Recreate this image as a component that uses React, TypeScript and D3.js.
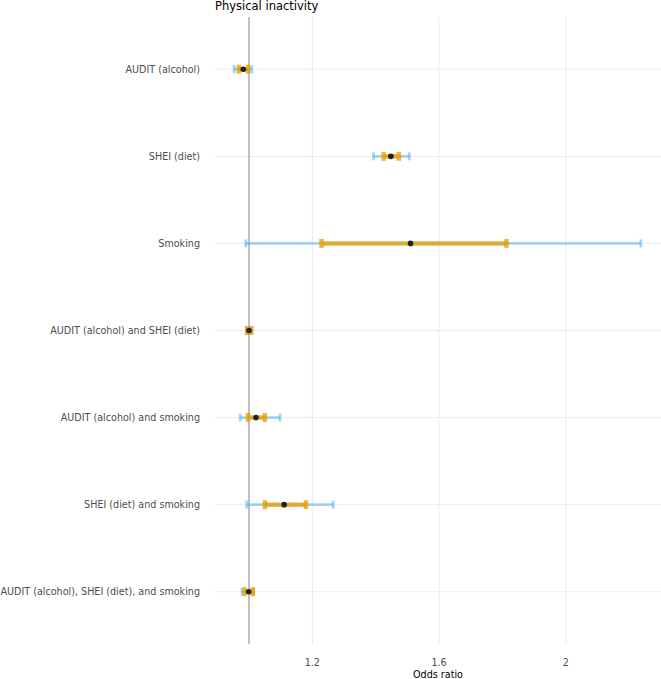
import React from "react";
import * as d3 from "d3";

const categories = [
  "AUDIT (alcohol)",
  "SHEI (diet)",
  "Smoking",
  "AUDIT (alcohol) and SHEI (diet)",
  "AUDIT (alcohol) and smoking",
  "SHEI (diet) and smoking",
  "AUDIT (alcohol), SHEI (diet), and smoking",
];
const estimate = [0.982, 1.448, 1.51, 1.0, 1.022, 1.111, 0.999];
const ci95Low = [0.953, 1.393, 0.99, 0.992, 0.972, 0.993, 0.978];
const ci95High = [1.009, 1.506, 2.237, 1.009, 1.098, 1.266, 1.014];
const ci50Low = [0.968, 1.425, 1.229, 0.994, 0.997, 1.05, 0.986];
const ci50High = [0.997, 1.473, 1.813, 1.007, 1.05, 1.18, 1.012];
const xTicks = [1.2, 1.6, 2];

const W = 661;
const H = 679;
const left = 215;
const right = 661;
const top = 17;
const bottom = 644;
const font = "DejaVu Sans, sans-serif";

export default function App() {
  const x = d3.scaleLinear().domain([1, 1.4]).range([249, 375.7]);
  const y = d3
    .scalePoint<string>()
    .domain(categories)
    .range([top, bottom])
    .padding(0.6);

  return (
    <svg
      width={W}
      height={H}
      style={{ position: "absolute", left: 0, top: 0, background: "#fff" }}
    >
      <text x={215} y={9.5} fontFamily={font} fontSize={11.5} fill="#000">
        Physical inactivity
      </text>
      {xTicks.map((t) => (
        <line
          key={"gx" + t}
          x1={x(t)}
          x2={x(t)}
          y1={top}
          y2={bottom}
          stroke="#ebebeb"
          strokeWidth={1}
        />
      ))}
      {categories.map((c) => (
        <line
          key={"gy" + c}
          x1={left}
          x2={right}
          y1={y(c)}
          y2={y(c)}
          stroke="#ebebeb"
          strokeWidth={1}
        />
      ))}
      <line
        x1={x(1)}
        x2={x(1)}
        y1={top}
        y2={bottom}
        stroke="#8c8c8c"
        strokeWidth={1.1}
      />
      {categories.map((c, i) => {
        const yy = y(c)!;
        return (
          <g key={"b" + i}>
            <g stroke="#56B4E9" strokeOpacity={0.55} strokeWidth={2.8}>
              <line x1={x(ci95Low[i])} x2={x(ci95High[i])} y1={yy} y2={yy} />
              <line x1={x(ci95Low[i])} x2={x(ci95Low[i])} y1={yy - 4} y2={yy + 4} />
              <line x1={x(ci95High[i])} x2={x(ci95High[i])} y1={yy - 4} y2={yy + 4} />
            </g>
            <g stroke="#E69F00" strokeOpacity={0.75} strokeWidth={4.5}>
              <line x1={x(ci50Low[i])} x2={x(ci50High[i])} y1={yy} y2={yy} />
              <line x1={x(ci50Low[i])} x2={x(ci50Low[i])} y1={yy - 4.5} y2={yy + 4.5} />
              <line x1={x(ci50High[i])} x2={x(ci50High[i])} y1={yy - 4.5} y2={yy + 4.5} />
            </g>
            <circle cx={x(estimate[i])} cy={yy} r={2.8} fill="#222" />
          </g>
        );
      })}
      {categories.map((c) => (
        <text
          key={"l" + c}
          x={200}
          y={y(c)}
          dy="0.35em"
          textAnchor="end"
          fontFamily={font}
          fontSize={9.6}
          fill="#4d4d4d"
        >
          {c}
        </text>
      ))}
      {xTicks.map((t) => (
        <text
          key={"t" + t}
          x={x(t)}
          y={665.5}
          textAnchor="middle"
          fontFamily={font}
          fontSize={9.6}
          fill="#4d4d4d"
        >
          {d3.format("~g")(t)}
        </text>
      ))}
      <text
        x={(left + right) / 2}
        y={678.3}
        textAnchor="middle"
        fontFamily={font}
        fontSize={9.6}
        fill="#000"
      >
        Odds ratio
      </text>
    </svg>
  );
}
